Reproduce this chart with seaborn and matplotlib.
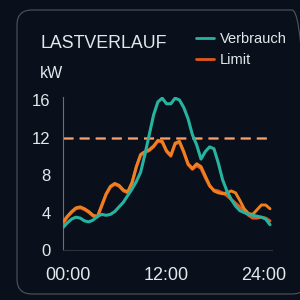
import numpy as np
import pandas as pd
import matplotlib
matplotlib.use("Agg")
import matplotlib.pyplot as plt
import matplotlib.transforms as mtransforms
from matplotlib.patches import FancyBboxPatch
from matplotlib.lines import Line2D
import seaborn as sns

# ---- data (half-hour steps) ----
hours = [i * 0.5 for i in range(49)]
verbrauch = [2.4, 2.9, 3.3, 3.5, 3.4, 3.1, 3.0, 3.2, 3.6, 3.8,
             3.7, 3.8, 4.1, 4.6, 5.1, 5.8, 6.5, 7.3, 8.3, 10.2,
             12.3, 14.4, 15.8, 16.2, 15.6, 15.6, 16.2, 16.0, 15.2, 14.0,
             12.3, 11.2, 9.7, 10.5, 11.0, 10.8, 9.3, 7.5, 6.3, 5.4,
             4.7, 4.2, 4.0, 3.8, 3.7, 3.6, 3.5, 3.3, 2.7]
limit = [3.0, 3.6, 4.1, 4.5, 4.6, 4.4, 4.1, 3.7, 3.6, 4.8,
         6.0, 6.8, 7.1, 6.9, 6.4, 6.2, 7.2, 8.9, 10.2, 10.5,
         10.7, 11.1, 11.7, 11.6, 10.6, 10.1, 11.4, 11.6, 10.5, 9.2,
         8.7, 9.2, 8.9, 7.9, 6.9, 6.3, 6.1, 6.0, 6.1, 6.3,
         6.1, 5.3, 4.4, 3.9, 3.8, 4.3, 4.8, 4.8, 4.4]
limit_b = [2.8, 3.5, 4.0, 4.4, 4.5, 4.3, 4.0, 3.6, 3.5, 4.7,
           5.9, 6.7, 7.0, 6.8, 6.3, 6.1, 7.1, 8.8, 10.1, 10.4,
           10.6, 11.0, 11.6, 11.5, 10.5, 10.0, 11.3, 11.5, 10.4, 9.1,
           8.6, 9.0, 8.7, 7.7, 6.8, 6.4, 6.3, 6.1, 5.8, 5.4,
           5.0, 4.6, 4.2, 3.7, 3.4, 3.4, 3.5, 3.4, 3.1]
limit_level = 12
y_ticks = [0, 4, 8, 12, 16]
x_ticks = [0, 12, 24]
x_labels = ["00:00", "12:00", "24:00"]
title = "LASTVERLAUF"
unit = "kW"
series_names = ["Verbrauch", "Limit"]

BG = "#0a101b"
TEAL = "#26b4a0"
ORANGE = "#f0801f"
RED = "#e2561f"
TXT = "#e4e7eb"

sns.set_theme(style="dark")
plt.rcParams["font.family"] = ["Liberation Sans", "DejaVu Sans"]

fig = plt.figure(figsize=(3, 3), dpi=100, facecolor=BG)
ax = fig.add_axes([63 / 300, 50 / 300, 209 / 300, 152.8 / 300])
ax.set_facecolor(BG)

# panel border
panel = FancyBboxPatch((17 / 300, 6 / 300), 290 / 300, 284 / 300,
                       boxstyle="round,pad=0,rounding_size=0.05",
                       transform=fig.transFigure, facecolor="none",
                       edgecolor="#50565e", linewidth=0.8, zorder=0)
fig.patches.append(panel)

df = pd.DataFrame({"h": hours, "v": verbrauch, "l": limit, "lb": limit_b})

line_kw = dict(solid_joinstyle="round", solid_capstyle="round")
sns.lineplot(data=df, x="h", y="lb", ax=ax, color=RED, lw=2.1, zorder=3, **line_kw)
sns.lineplot(data=df, x="h", y="l", ax=ax, color=ORANGE, lw=2.1, zorder=4, **line_kw)
sns.lineplot(data=df, x="h", y="v", ax=ax, color=TEAL, lw=2.2, zorder=5, **line_kw)

ax.axhline(limit_level, color="#ec5f2a", lw=2.0, dashes=(3.6, 2.2), zorder=2)
ax.axhline(limit_level, color="#f4a06a", lw=0.8, dashes=(9.0, 5.5), zorder=2)

ax.set_xlim(0, 24.23)
ax.set_ylim(0, 16.3)
ax.set_xticks(x_ticks)
ax.set_xticklabels(x_labels)
ax.set_yticks(y_ticks)
ax.set_xlabel("")
ax.set_ylabel("")
ax.grid(False)

for s in ["top", "right"]:
    ax.spines[s].set_visible(False)
ax.spines["left"].set_color("#6a7078")
ax.spines["left"].set_linewidth(0.8)
ax.spines["bottom"].set_color("#2c333d")
ax.spines["bottom"].set_linewidth(0.8)

ax.tick_params(axis="y", colors=TXT, labelsize=12, length=2, width=0.6,
               pad=7, direction="out", color="#4a5058")
ax.tick_params(axis="x", colors=TXT, labelsize=13, length=2, width=0.6,
               pad=10, color="#3a414b")

# nudge x labels to match the reference positions
offs = [5, 0, -6]
for lab, o in zip(ax.get_xticklabels(), offs):
    lab.set_transform(lab.get_transform() +
                      mtransforms.ScaledTranslation(o / 100, 0, fig.dpi_scale_trans))

fig.text(40 / 300, 1 - 43 / 300, title, color=TXT, fontsize=12.8,
         va="center", ha="left")
fig.text(40 / 300, 1 - 74 / 300, unit, color=TXT, fontsize=11.5,
         va="center", ha="left")

handles = [Line2D([], [], color=TEAL, lw=2), Line2D([], [], color=RED, lw=2)]
fig.legend(handles, series_names, loc="upper left",
           bbox_to_anchor=(196 / 300, 1 - 32 / 300), frameon=False,
           fontsize=10.5, labelcolor=TXT, handlelength=1.25, handletextpad=0.4,
           labelspacing=0.5, borderpad=0, borderaxespad=0)

fig.savefig("out.png", dpi=100, facecolor=BG)
